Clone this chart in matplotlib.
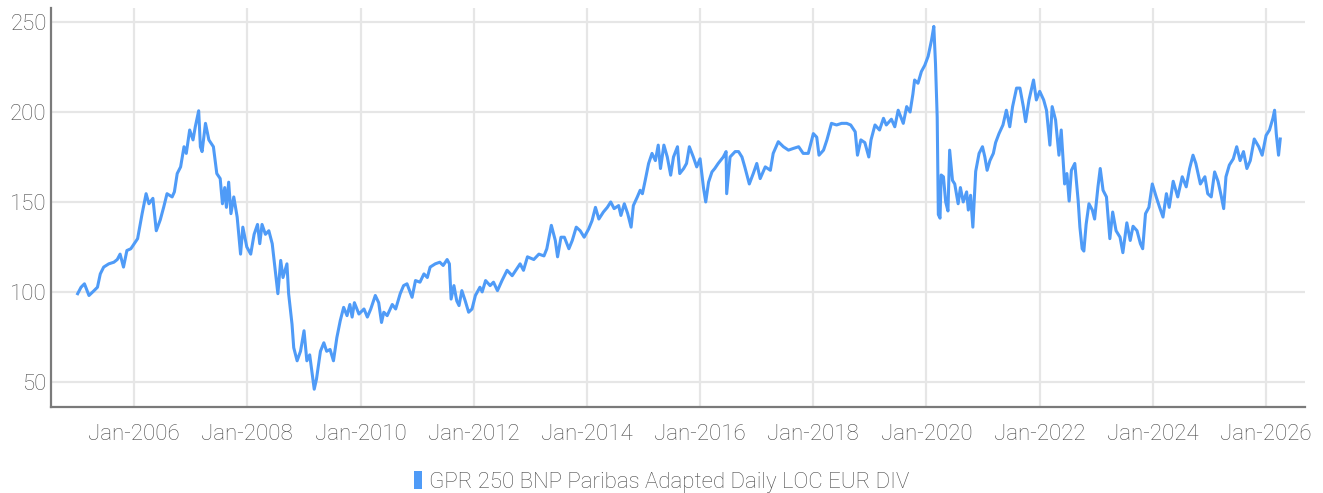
import matplotlib
matplotlib.use("Agg")
import matplotlib.pyplot as plt
import matplotlib.dates as mdates
from matplotlib.patches import Patch
import pandas as pd

plt.rcParams["font.family"] = ["Roboto", "DejaVu Sans"]
plt.rcParams["font.weight"] = "light"

# Index level, (decimal year, value)
years = [
    2005.00, 2005.06, 2005.12, 2005.20, 2005.29, 2005.35, 2005.40, 2005.46, 2005.55, 2005.64,
    2005.70, 2005.75, 2005.81, 2005.87, 2005.94, 2006.00, 2006.06, 2006.14, 2006.21, 2006.26,
    2006.33, 2006.39, 2006.46, 2006.52, 2006.58, 2006.67, 2006.71, 2006.76, 2006.82, 2006.88,
    2006.92, 2006.98, 2007.04, 2007.08, 2007.14, 2007.17, 2007.20, 2007.26, 2007.32, 2007.40,
    2007.46, 2007.52, 2007.56, 2007.60, 2007.63, 2007.67, 2007.71, 2007.76, 2007.82, 2007.88,
    2007.92, 2007.99, 2008.06, 2008.12, 2008.18, 2008.22, 2008.26, 2008.32, 2008.38, 2008.44,
    2008.50, 2008.54, 2008.59, 2008.63, 2008.70, 2008.73, 2008.79, 2008.82, 2008.88, 2008.94,
    2009.00, 2009.05, 2009.10, 2009.18, 2009.22, 2009.29, 2009.35, 2009.40, 2009.46, 2009.52,
    2009.58, 2009.64, 2009.70, 2009.76, 2009.81, 2009.85, 2009.89, 2009.97, 2010.06, 2010.12,
    2010.18, 2010.26, 2010.32, 2010.37, 2010.41, 2010.47, 2010.56, 2010.62, 2010.70, 2010.76,
    2010.82, 2010.91, 2010.97, 2011.05, 2011.12, 2011.18, 2011.23, 2011.32, 2011.40, 2011.46,
    2011.53, 2011.57, 2011.60, 2011.65, 2011.70, 2011.74, 2011.79, 2011.85, 2011.91, 2011.97,
    2012.03, 2012.11, 2012.15, 2012.21, 2012.29, 2012.35, 2012.42, 2012.50, 2012.59, 2012.68,
    2012.76, 2012.82, 2012.88, 2012.95, 2013.06, 2013.15, 2013.24, 2013.29, 2013.37, 2013.44,
    2013.48, 2013.54, 2013.60, 2013.68, 2013.74, 2013.81, 2013.88, 2013.95, 2014.03, 2014.09,
    2014.15, 2014.21, 2014.29, 2014.36, 2014.42, 2014.48, 2014.56, 2014.60, 2014.66, 2014.72,
    2014.78, 2014.82, 2014.89, 2014.94, 2014.98, 2015.03, 2015.09, 2015.15, 2015.21, 2015.26,
    2015.30, 2015.36, 2015.42, 2015.48, 2015.53, 2015.60, 2015.64, 2015.71, 2015.76, 2015.81,
    2015.88, 2015.94, 2016.00, 2016.06, 2016.10, 2016.15, 2016.21, 2016.26, 2016.32, 2016.41,
    2016.46, 2016.47, 2016.53, 2016.62, 2016.68, 2016.74, 2016.79, 2016.87, 2016.94, 2017.00,
    2017.06, 2017.15, 2017.24, 2017.29, 2017.38, 2017.47, 2017.56, 2017.65, 2017.74, 2017.82,
    2017.91, 2018.00, 2018.06, 2018.10, 2018.18, 2018.24, 2018.32, 2018.41, 2018.50, 2018.59,
    2018.66, 2018.74, 2018.78, 2018.84, 2018.91, 2018.98, 2019.02, 2019.09, 2019.17, 2019.24,
    2019.29, 2019.38, 2019.44, 2019.50, 2019.59, 2019.65, 2019.71, 2019.76, 2019.79, 2019.85,
    2019.91, 2019.97, 2020.03, 2020.09, 2020.13, 2020.16, 2020.19, 2020.21, 2020.24, 2020.26,
    2020.30, 2020.34, 2020.38, 2020.41, 2020.46, 2020.50, 2020.56, 2020.60, 2020.65, 2020.71,
    2020.74, 2020.78, 2020.82, 2020.87, 2020.93, 2020.99, 2021.03, 2021.07, 2021.12, 2021.18,
    2021.22, 2021.28, 2021.35, 2021.41, 2021.47, 2021.52, 2021.59, 2021.65, 2021.71, 2021.75,
    2021.81, 2021.89, 2021.94, 2022.00, 2022.07, 2022.12, 2022.18, 2022.22, 2022.28, 2022.34,
    2022.38, 2022.44, 2022.48, 2022.52, 2022.56, 2022.62, 2022.68, 2022.71, 2022.75, 2022.78,
    2022.82, 2022.87, 2022.93, 2022.97, 2023.03, 2023.07, 2023.12, 2023.18, 2023.24, 2023.29,
    2023.35, 2023.42, 2023.47, 2023.54, 2023.60, 2023.65, 2023.72, 2023.78, 2023.82, 2023.87,
    2023.93, 2023.99, 2024.06, 2024.12, 2024.18, 2024.24, 2024.29, 2024.36, 2024.44, 2024.52,
    2024.59, 2024.65, 2024.71, 2024.76, 2024.84, 2024.92, 2024.97, 2025.03, 2025.09, 2025.15,
    2025.21, 2025.25, 2025.29, 2025.35, 2025.42, 2025.48, 2025.54, 2025.60, 2025.66, 2025.72,
    2025.79, 2025.87, 2025.93, 2026.00, 2026.06, 2026.12, 2026.15, 2026.18, 2026.22, 2026.25,
]
values = [
    99.0, 102.6, 104.5, 98.0, 100.7, 102.6, 110.0, 113.8, 115.6, 116.5,
    118.0, 121.0, 113.8, 123.0, 124.0, 126.8, 129.6, 143.5, 154.6, 149.0,
    152.0, 134.0, 140.0, 147.0, 154.6, 152.8, 155.6, 165.8, 169.5, 180.7,
    177.0, 190.0, 184.5, 191.8, 200.7, 180.7, 178.0, 193.7, 184.5, 180.7,
    165.8, 163.0, 149.0, 158.0, 147.0, 161.0, 143.5, 152.8, 141.6, 121.0,
    136.0, 125.0, 121.0, 132.0, 137.5, 126.8, 137.5, 132.0, 134.0, 126.8,
    110.0, 99.0, 117.5, 108.0, 115.6, 99.0, 82.0, 69.0, 61.7, 67.0,
    78.4, 61.7, 65.0, 45.9, 51.5, 67.0, 71.7, 67.0, 68.0, 61.7,
    74.6, 84.0, 91.4, 86.8, 93.0, 86.0, 94.0, 87.7, 90.5, 86.0,
    90.5, 98.0, 94.0, 83.0, 88.7, 86.8, 93.0, 90.5, 99.0, 103.5,
    104.5, 97.0, 106.3, 105.4, 110.0, 108.0, 113.8, 115.6, 116.5, 114.7,
    118.0, 115.6, 96.0, 103.5, 95.0, 92.4, 100.7, 95.0, 88.7, 90.5,
    98.0, 102.6, 100.0, 106.3, 103.5, 105.4, 100.7, 106.3, 112.0, 109.0,
    112.8, 115.6, 112.0, 119.5, 118.0, 121.0, 120.0, 124.0, 137.0, 128.6,
    119.5, 130.4, 130.4, 124.0, 128.6, 136.0, 134.0, 130.4, 135.0, 139.6,
    147.0, 140.5, 144.4, 147.0, 150.0, 146.3, 148.0, 142.5, 149.0, 143.5,
    136.0, 148.0, 152.8, 156.5, 154.6, 162.0, 171.4, 177.0, 173.0, 181.6,
    168.6, 181.6, 175.0, 164.9, 175.0, 180.7, 165.8, 168.6, 171.4, 180.7,
    175.0, 169.5, 174.0, 158.0, 150.0, 161.0, 166.7, 168.6, 171.4, 175.0,
    178.0, 154.6, 175.0, 178.0, 178.0, 175.0, 169.5, 160.0, 165.8, 171.4,
    163.0, 169.5, 167.6, 177.0, 183.5, 180.7, 178.8, 179.8, 180.7, 177.0,
    177.0, 188.0, 186.0, 176.0, 178.8, 184.5, 193.7, 192.8, 193.7, 193.7,
    192.8, 189.0, 176.0, 184.5, 183.0, 175.0, 184.5, 192.8, 190.0, 196.5,
    192.8, 196.0, 191.8, 201.0, 193.7, 203.0, 200.0, 210.0, 217.8, 216.0,
    222.5, 226.0, 231.0, 240.0, 247.6, 226.8, 197.0, 143.0, 141.0, 165.0,
    164.0, 150.0, 145.0, 178.8, 162.0, 160.0, 149.0, 158.0, 150.0, 155.6,
    145.5, 153.7, 136.0, 167.0, 177.0, 180.7, 175.0, 167.6, 173.0, 177.0,
    183.0, 188.0, 192.8, 201.0, 191.8, 203.0, 213.3, 213.3, 203.0, 194.6,
    206.7, 217.8, 206.7, 211.5, 206.7, 201.0, 181.6, 203.0, 195.6, 176.0,
    190.0, 160.0, 165.8, 150.5, 167.6, 171.4, 150.5, 136.0, 124.0, 122.7,
    137.5, 149.0, 145.5, 140.5, 158.4, 168.6, 156.5, 152.8, 129.6, 144.4,
    134.0, 130.4, 121.8, 138.4, 128.6, 136.5, 134.0, 126.8, 124.0, 143.5,
    147.0, 160.0, 152.8, 147.0, 141.6, 154.6, 147.0, 161.5, 152.8, 164.0,
    158.4, 168.6, 176.0, 171.4, 160.0, 164.0, 154.6, 152.8, 166.7, 161.5,
    152.8, 146.3, 164.0, 170.5, 174.0, 180.7, 173.0, 178.0, 168.6, 173.0,
    185.0, 180.7, 176.0, 187.0, 190.0, 196.5, 201.0, 188.0, 176.0, 185.0,
]
series_name = "GPR 250 BNP Paribas Adapted Daily LOC EUR DIV"
y_ticks = [50, 100, 150, 200, 250]


def to_date(y):
    base = pd.Timestamp(year=int(y), month=1, day=1)
    return base + pd.Timedelta(days=(y - int(y)) * 365.25)


dates = [to_date(y) for y in years]

line_color = "#4f9bf7"
grid_color = "#e6e6e6"
text_color = "#4a4a4a"

fig = plt.figure(figsize=(13.23, 4.93), dpi=100)
ax = fig.add_axes([0.0385, 0.1744, 0.948, 0.81])

ax.plot(dates, values, color=line_color, linewidth=2.2, zorder=3)

ax.set_ylim(36, 258)
ax.set_xlim(to_date(2004.53), to_date(2026.69))
ax.set_yticks(y_ticks)
ax.xaxis.set_major_locator(mdates.YearLocator(2, month=1, day=1))
ax.xaxis.set_major_formatter(mdates.DateFormatter("Jan-%Y"))

ax.grid(True, color=grid_color, linewidth=1.6, zorder=0)
ax.set_axisbelow(True)
for side in ("top", "right"):
    ax.spines[side].set_visible(False)
for side in ("left", "bottom"):
    ax.spines[side].set_color("#7a7a7a")
    ax.spines[side].set_linewidth(1.6)
ax.tick_params(axis="both", length=0, labelsize=16, labelcolor=text_color)
ax.tick_params(axis="x", pad=12)
ax.tick_params(axis="y", pad=3)

fig.legend(handles=[Patch(facecolor=line_color, edgecolor="none", label=series_name)],
           loc="lower center", bbox_to_anchor=(0.5, -0.04), frameon=False,
           fontsize=16, labelcolor=text_color, handlelength=0.35, handleheight=0.9,
           handletextpad=0.3)

fig.savefig("out.png", dpi=100)
